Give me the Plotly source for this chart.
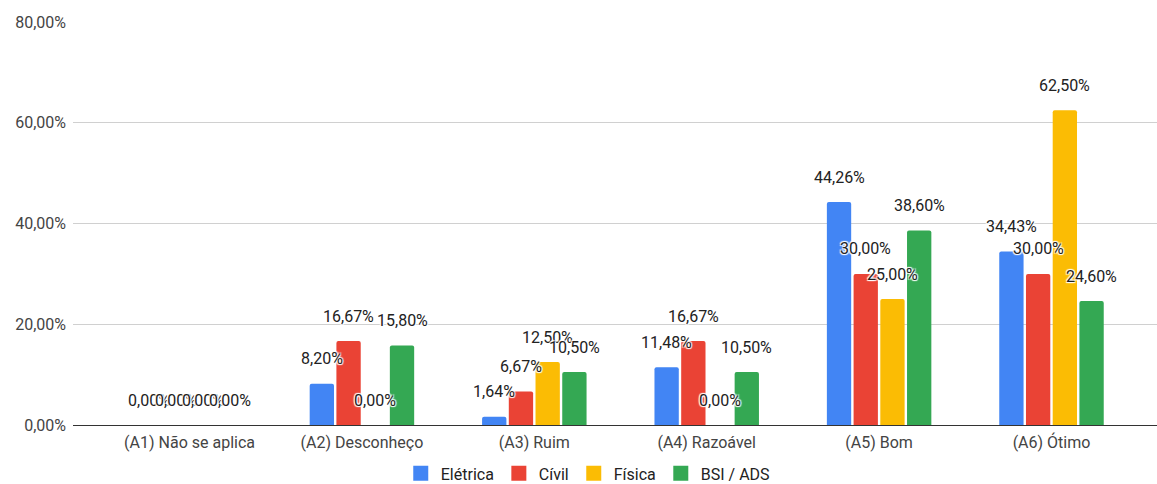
import plotly.graph_objects as go

# Response categories (x axis)
categories = [
    "(A1) Não se aplica",
    "(A2) Desconheço",
    "(A3) Ruim",
    "(A4) Razoável",
    "(A5) Bom",
    "(A6) Ótimo",
]

# Percentages per course
eletrica = [0.00, 8.20, 1.64, 11.48, 44.26, 34.43]
civil = [0.00, 16.67, 6.67, 16.67, 30.00, 30.00]
fisica = [0.00, 0.00, 12.50, 0.00, 25.00, 62.50]
bsi_ads = [0.00, 15.80, 10.50, 10.50, 38.60, 24.60]

series_names = ["Elétrica", "Cívil", "Física", "BSI / ADS"]
series_values = [eletrica, civil, fisica, bsi_ads]
series_colors = ["#4285F4", "#EA4335", "#FBBC04", "#34A853"]

y_ticks = [0, 20, 40, 60, 80]

BARGAP = 0.38
BARGROUPGAP = 0.09
FONT = "Roboto, Arial, sans-serif"
HALO = "1px 1px 1px #fff, -1px -1px 1px #fff, 1px -1px 1px #fff, -1px 1px 1px #fff"


def fmt_pct(v):
    return f"{v:.2f}".replace(".", ",") + "%"


x_idx = list(range(len(categories)))
fig = go.Figure()

for name, vals, color in zip(series_names, series_values, series_colors):
    fig.add_trace(go.Bar(
        x=x_idx,
        y=vals,
        name=name,
        legendgroup=name,
        showlegend=False,
        marker=dict(color=color, line=dict(width=0), cornerradius=2),
        hovertemplate="%{y:.2f}%<extra>" + name + "</extra>",
    ))
    # legend entry with a larger square swatch
    fig.add_trace(go.Scatter(
        x=[None], y=[None], mode="markers", name=name, legendgroup=name,
        marker=dict(symbol="square", size=15, color=color),
        hoverinfo="skip",
    ))

# Value labels above each bar, placed at the centre of the bar's slot
n_series = len(series_names)
slot = (1 - BARGAP) / n_series
annotations = []
for s, vals in enumerate(series_values):
    offset = (s - (n_series - 1) / 2) * slot
    for i, v in enumerate(vals):
        annotations.append(dict(
            x=i + offset, y=v, xref="x", yref="y",
            text=fmt_pct(v), showarrow=False,
            xanchor="center", yanchor="middle", yshift=25,
            font=dict(family=FONT, size=16, color="#222222", shadow=HALO),
        ))

fig.update_layout(
    width=1157, height=484,
    margin=dict(l=73, r=0, t=22, b=59),
    paper_bgcolor="white", plot_bgcolor="white",
    barmode="group", bargap=BARGAP, bargroupgap=BARGROUPGAP,
    separators=",.",
    font=dict(family=FONT, size=16, color="#444444"),
    annotations=annotations,
    showlegend=True,
    legend=dict(
        orientation="h", xref="container", yref="container",
        x=0.508, y=0.022, xanchor="center", yanchor="middle",
        font=dict(family=FONT, size=16, color="#222222"),
        itemsizing="trace", itemwidth=30,
        tracegroupgap=0,
    ),
)

fig.update_xaxes(
    type="linear", range=[-0.676, 5.612],
    tickmode="array", tickvals=x_idx, ticktext=categories,
    showgrid=False, zeroline=False,
    showline=True, linecolor="#333333", linewidth=1,
    ticks="", ticklabelstandoff=3,
    tickfont=dict(family=FONT, size=16, color="#444444"),
)
fig.update_yaxes(
    range=[0, 80], tickmode="array", tickvals=y_ticks,
    ticktext=[fmt_pct(t) for t in y_ticks],
    showgrid=True, gridcolor="#d0d0d0", gridwidth=1,
    zeroline=False, showline=False, ticks="",
    ticklabelstandoff=6,
    tickfont=dict(family=FONT, size=16, color="#444444"),
)

fig.write_html("out.html")
